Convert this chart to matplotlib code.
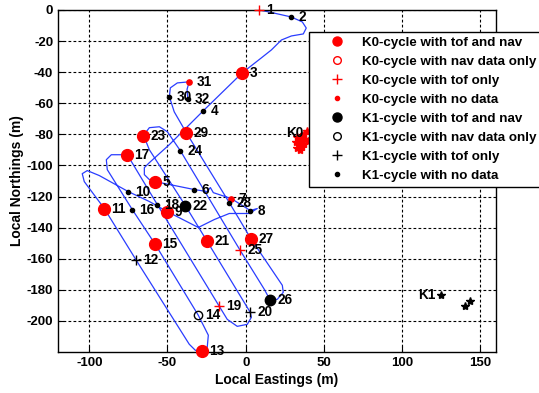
import matplotlib.pyplot as plt
from matplotlib.lines import Line2D

plt.rcParams["font.family"] = ["Liberation Sans", "DejaVu Sans"]
plt.rcParams["font.weight"] = "bold"
plt.rcParams["axes.labelweight"] = "bold"
plt.rcParams["axes.unicode_minus"] = False

# vehicle track, local eastings / northings (m)
track_east = [0, 8.7, 15.1, 29.2, 36.2, 38.7, 36.8, 29.2, 22.8, 16.4, 10.0, -2.2, -27.1, -48.8,
              -61.6, -64.8, -64.8, -61.6, -57.8, -32.9, -24.6, -22.6, -20.7, -9.2, 2.9, 7.4, 2.3,
              -10.5, -20.1, -30.3, -50.1, -61.6, -75.1, -93.6, -101.3, -104.5, -103.2, -90.4,
              -69.9, -36.1, -32.2, -27.7, -24.6, -23.9, -30.3, -57.8, -72.5, -88.5, -89.1, -85.9,
              -75.7, -56.5, -16.9, -11.8, -5.4, 1.0, 3.6, 2.9, -24.6, -38.6, -61.6, -64.2, -65.5,
              -61.6, -55.2, -50.1, -41.8, -3.5, 11.9, 15.7, 20.2, 24.0, 23.4, 3.6, -10.5, -38.0,
              -45.7, -48.8, -48.2, -43.7, -36.1, -37.5, -37.0]
track_north = [0, 0, -1.3, -4.5, -7.7, -11.6, -15.4, -16.7, -19.3, -25.7, -30.8, -40.4, -64.8,
               -86.6, -98.2, -101.4, -105.9, -109.1, -110.4, -115.5, -116.8, -114.2, -117.5,
               -121.3, -129.0, -127.7, -130.9, -130.9, -134.8, -139.9, -129.7, -123.2, -116.8,
               -106.5, -103.3, -105.3, -110.4, -127.7, -161.1, -215.0, -218.9, -219.5, -216.9,
               -209.2, -196.4, -150.8, -128.4, -102.7, -96.3, -93.1, -93.1, -125.2, -190.6,
               -199.0, -203.5, -202.2, -197.7, -194.5, -148.9, -125.8, -89.9, -83.4, -80.9,
               -75.7, -75.1, -78.3, -90.5, -154.7, -179.7, -186.8, -186.1, -181.6, -177.1,
               -147.6, -123.9, -78.9, -65.5, -55.8, -50.1, -46.9, -46.2, -51.0, -57.5]

# cycle positions, odd cycles from K0, even from K1
cycle_east = [8.7, 29.2, -2.2, -27.1, -57.8, -32.9, -9.2, 2.9, -50.1, -75.1, -90.4, -69.9, -27.7,
              -30.3, -57.8, -72.5, -75.7, -56.5, -16.9, 2.9, -24.6, -38.6, -65.5, -41.8, -3.5,
              15.7, 3.6, -10.5, -38.0, -48.8, -36.1, -37.0]
cycle_north = [0, -4.5, -40.4, -64.8, -110.4, -115.5, -121.3, -129.0, -129.7, -116.8, -127.7,
               -161.1, -219.5, -196.4, -150.8, -128.4, -93.1, -125.2, -190.6, -194.5, -148.9,
               -125.8, -80.9, -90.5, -154.7, -186.8, -147.6, -123.9, -78.9, -55.8, -46.2, -57.5]
cycle_data = ["tof", "none", "both", "none", "both", "none", "none", "none", "both", "none",
              "both", "tof", "both", "nav", "both", "none", "both", "none", "tof", "tof",
              "both", "both", "both", "none", "tof", "both", "both", "none", "both", "none",
              "none", "none"]

# transponder fixes
k0_east = [33, 35, 37, 34, 36, 38, 32, 35, 39, 36, 34, 37, 40, 33]
k0_north = [-82, -84, -80, -86, -88, -83, -85, -90, -78, -81, -87, -86, -84, -89]
k1_east = [124.6, 140.0, 143.1]
k1_north = [-183.2, -190.3, -187.1]

legend_labels = ["K0-cycle with tof and nav", "K0-cycle with nav data only",
                 "K0-cycle with tof only", "K0-cycle with no data",
                 "K1-cycle with tof and nav", "K1-cycle with nav data only",
                 "K1-cycle with tof only", "K1-cycle with no data"]


def marker_style(kind, color, legend=False):
    if kind == "both":
        return dict(marker="o", ms=6.5 if legend else (8.5 if color == "red" else 7.5),
                    mfc=color, mec=color)
    if kind == "nav":
        return dict(marker="o", ms=5.5 if legend else 6, mfc="none", mec=color, mew=1)
    if kind == "tof":
        return dict(marker="+", ms=7, mec=color, mew=1)
    return dict(marker="o", ms=3 if legend else (3.8 if color == "red" else 3),
                mfc=color, mec=color)


def main():
    fig = plt.figure(figsize=(5.39, 3.93), dpi=100)
    ax = fig.add_axes([58 / 539, 41 / 393, 438 / 539, 342 / 393])

    ax.plot(track_east, track_north, color="#2a3dff", lw=0.9, zorder=2)

    for i, (e, n, kind) in enumerate(zip(cycle_east, cycle_north, cycle_data)):
        color = "red" if i % 2 == 0 else "black"
        ax.plot([e], [n], ls="none", zorder=3, clip_on=False, **marker_style(kind, color))
        ax.text(e + 4.5, n, str(i + 1), fontsize=9.8, ha="left", va="center", zorder=4)

    ax.plot(k0_east, k0_north, ls="none", marker="*", ms=6, color="red", zorder=3)
    ax.text(31.3, -79, "K0", fontsize=9.8, ha="center", va="center")
    ax.plot(k1_east, k1_north, ls="none", marker="*", ms=6, color="black", zorder=3)
    ax.text(115.7, -183.2, "K1", fontsize=9.8, ha="center", va="center")

    ax.set_xlim(-120, 160)
    ax.set_ylim(-220, 0)
    ax.set_xticks([-100, -50, 0, 50, 100, 150])
    ax.set_yticks(range(-200, 1, 20))
    ax.tick_params(direction="in", length=4, labelsize=9.5, width=0.8)
    ax.grid(True, color="black", linestyle=(0, (2.5, 2)), linewidth=0.8)
    for spine in ax.spines.values():
        spine.set_linewidth(1)
    ax.set_xlabel("Local Eastings (m)", fontsize=10, labelpad=3)
    ax.set_ylabel("Local Northings (m)", fontsize=10, labelpad=2)

    handles = []
    for color in ["red", "black"]:
        for kind in ["both", "nav", "tof", "none"]:
            handles.append(Line2D([], [], ls="none", **marker_style(kind, color, legend=True)))
    fig.legend(handles, legend_labels, loc="upper left", bbox_to_anchor=(309 / 539, 1 - 32 / 393),
               borderaxespad=0, fontsize=9.6, fancybox=False, framealpha=1, edgecolor="black",
               borderpad=0.35, handlelength=3.5, handletextpad=0.13, labelspacing=0.5,
               numpoints=1)

    fig.savefig("out.png", dpi=100)


if __name__ == "__main__":
    main()
